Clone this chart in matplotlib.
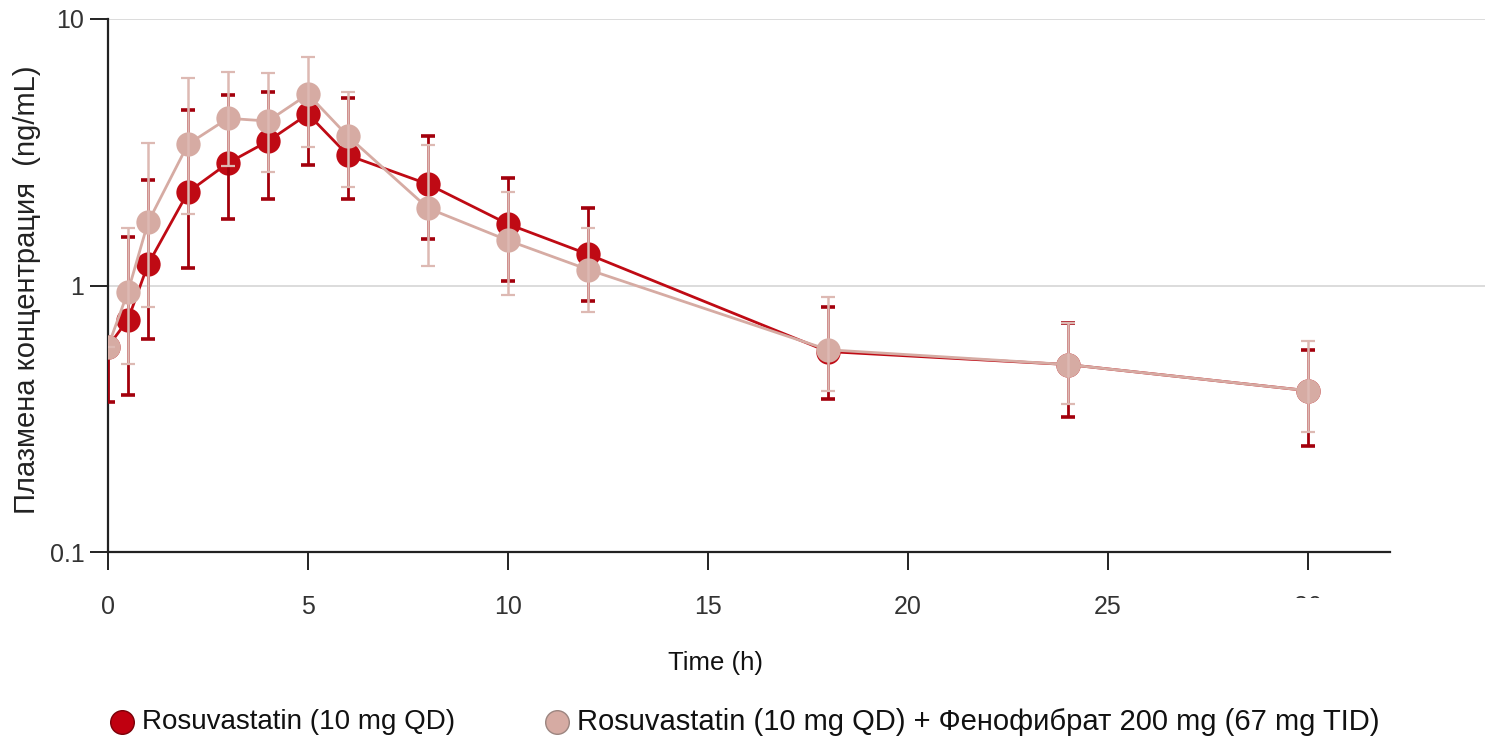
import matplotlib
matplotlib.use("Agg")
import matplotlib.pyplot as plt
import numpy as np
from matplotlib.lines import Line2D
from matplotlib.patches import Rectangle

plt.rcParams['font.family'] = ['Liberation Sans', 'DejaVu Sans']

time_h = [0, 0.5, 1, 2, 3, 4, 5, 6, 8, 10, 12, 18, 24, 30]

rosu_mean = [0.590, 0.745, 1.20, 2.24, 2.88, 3.48, 4.40, 3.08, 2.40, 1.70, 1.31, 0.565, 0.505, 0.403]
rosu_low = [0.366, 0.389, 0.632, 1.16, 1.77, 2.11, 2.83, 2.11, 1.50, 1.04, 0.878, 0.376, 0.322, 0.250]
rosu_high = [0.610, 1.515, 2.48, 4.55, 5.18, 5.32, 5.13, 5.05, 3.63, 2.53, 1.95, 0.827, 0.726, 0.574]

combo_mean = [0.590, 0.949, 1.725, 3.39, 4.24, 4.14, 5.22, 3.63, 1.95, 1.476, 1.148, 0.574, 0.505, 0.403]
combo_low = [0.590, 0.509, 0.827, 1.85, 2.80, 2.66, 3.30, 2.34, 1.18, 0.925, 0.798, 0.403, 0.360, 0.283]
combo_high = [0.590, 1.638, 3.42, 6.00, 6.32, 6.27, 7.20, 5.32, 3.36, 2.236, 1.638, 0.909, 0.726, 0.621]

x_ticks = [0, 5, 10, 15, 20, 25, 30]
y_ticks = [0.1, 1, 10]
y_tick_labels = ["0.1", "1", "10"]

label_rosu = "Rosuvastatin (10 mg QD)"
label_combo = "Rosuvastatin (10 mg QD) + Фенофибрат 200 mg (67 mg TID)"
y_label = "Плазмена концентрация  (ng/mL)"
x_label = "Time (h)"

dark = "#BF0A14"
dark_err = "#A3000C"
pink = "#D6ABA3"
pink_err = "#DDB9B3"

W, H = 1485, 746
fig = plt.figure(figsize=(W / 100, H / 100), dpi=100)
ax = fig.add_axes([108 / W, 1 - 552 / H, (W - 108) / W, (552 - 19) / H])

ax.set_yscale('log')
ax.set_ylim(0.1, 10)
ax.set_xlim(0, (W - 108) / 40.0)

t = np.array(time_h)

def draw(mean, low, high, col, ecol, zl, ze, capthick, elw):
    mean = np.array(mean); low = np.array(low); high = np.array(high)
    ax.errorbar(t, mean, yerr=[mean - low, high - mean], fmt='none',
                ecolor=ecol, elinewidth=elw, capsize=5, capthick=capthick,
                zorder=ze)
    ax.plot(t, mean, '-', color=col, lw=2.0, marker='o', ms=17.5,
            markeredgewidth=0, zorder=zl)

# dark: markers then bars; pink: markers then bars on top
draw(rosu_mean, rosu_low, rosu_high, dark, dark_err, 2, 3, 2.6, 2.0)
draw(combo_mean, combo_low, combo_high, pink, pink_err, 4, 5, 1.6, 1.8)

ax.set_yticks(y_ticks)
ax.set_yticklabels(y_tick_labels)
ax.yaxis.set_minor_locator(matplotlib.ticker.NullLocator())
ax.set_xticks(x_ticks)
ax.set_xticklabels([str(v) for v in x_ticks])

for yv in [1, 10]:
    ax.axhline(yv, color="#D9D9D9", lw=1.3, zorder=1)

for s in ['top', 'right']:
    ax.spines[s].set_visible(False)
ax.spines['left'].set_linewidth(1.6)
ax.spines['bottom'].set_linewidth(1.6)
ax.spines['bottom'].set_bounds(0, (1390 - 108) / 40.0)
ax.spines['left'].set_color('#222222')
ax.spines['bottom'].set_color('#222222')

ax.tick_params(axis='y', length=13, width=1.4, pad=4, labelsize=18,
               colors='#222222', labelcolor='#333333')
ax.tick_params(axis='x', length=13, width=1.4, pad=18, labelsize=18,
               colors='#222222', labelcolor='#333333')

fig.text(27 / W, 1 - 290 / H, y_label, rotation=90, ha='center', va='center',
         fontsize=21, color='#222222')
fig.text(715 / W, 1 - 663 / H, x_label, ha='center', va='center',
         fontsize=18.5, color='#111111')

# legend (manual placement)
leg_y = 1 - 722 / H
fig.add_artist(Line2D([122 / W], [leg_y], ls='none', marker='o', ms=17,
                      markerfacecolor='#C00010', markeredgecolor='#7A0008',
                      markeredgewidth=1.0, transform=fig.transFigure))
fig.text(142 / W, leg_y, label_rosu, ha='left', va='center', fontsize=20,
         color='#111111')
fig.add_artist(Line2D([557 / W], [leg_y], ls='none', marker='o', ms=17,
                      markerfacecolor=pink, markeredgecolor='#9C8580',
                      markeredgewidth=1.0, transform=fig.transFigure))
fig.text(577 / W, leg_y, label_combo, ha='left', va='center', fontsize=21,
         color='#111111')

fig.patches.append(Rectangle((1200 / W, 1 - 652 / H), 198 / W, 54 / H,
                             transform=fig.transFigure, facecolor='white',
                             edgecolor='none', zorder=10))

fig.savefig("out.png", dpi=100, facecolor='white')
